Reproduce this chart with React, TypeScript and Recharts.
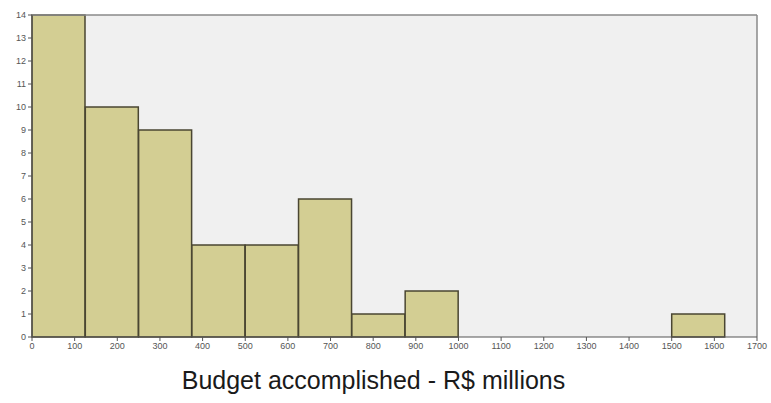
import React from 'react';
import { ComposedChart, Bar, XAxis, YAxis, CartesianGrid, ReferenceLine, Label } from 'recharts';

const binCenters = [62.5, 187.5, 312.5, 437.5, 562.5, 687.5, 812.5, 937.5, 1062.5, 1187.5, 1312.5, 1437.5, 1562.5];
const counts: (number | null)[] = [14, 10, 9, 4, 4, 6, 1, 2, null, null, null, null, 1];
const xTicks = [0, 100, 200, 300, 400, 500, 600, 700, 800, 900, 1000, 1100, 1200, 1300, 1400, 1500, 1600, 1700];
const yTicks = [0, 1, 2, 3, 4, 5, 6, 7, 8, 9, 10, 11, 12, 13, 14];
const xTitle = 'Budget accomplished - R$ millions';

const data = binCenters.map((c, i) => ({ x: c, count: counts[i] }));

export default function App() {
  return (
    <div style={{ position: 'absolute', left: 0, top: 0, background: '#fff' }}>
      <ComposedChart
        width={771}
        height={403}
        data={data}
        margin={{ top: 15, right: 14, bottom: 0, left: 0 }}
        barCategoryGap={0}
        barGap={0}
      >
        <CartesianGrid fill="#F0F0F0" horizontal={false} vertical={false} />
        <XAxis
          dataKey="x"
          type="number"
          domain={[0, 1700]}
          ticks={xTicks}
          interval={0}
          height={66}
          tickSize={4}
          stroke="#555"
          tick={{ fontSize: 9, fill: '#555', fontFamily: 'Arial, Liberation Sans, sans-serif' }}
        >
          <Label
            value={xTitle}
            position="insideBottom"
            offset={14}
            dx={-21}
            style={{ fontSize: 25, fill: '#1a1a1a', fontFamily: 'Arial, Liberation Sans, sans-serif' }}
          />
        </XAxis>
        <YAxis
          type="number"
          domain={[0, 14]}
          ticks={yTicks}
          interval={0}
          width={32}
          tickSize={4}
          stroke="#555"
          tick={{ fontSize: 9, fill: '#555', fontFamily: 'Arial, Liberation Sans, sans-serif' }}
        />
        <ReferenceLine y={14} stroke="#8a8a8a" strokeWidth={1.5} />
        <ReferenceLine x={1700} stroke="#8a8a8a" strokeWidth={1.5} />
        <Bar dataKey="count" fill="#D3CE93" stroke="#4a4632" strokeWidth={1.5} isAnimationActive={false} />
      </ComposedChart>
    </div>
  );
}
